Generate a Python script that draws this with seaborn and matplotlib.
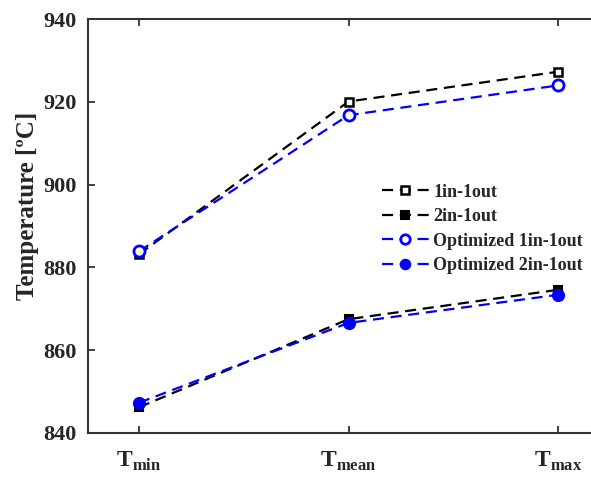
import matplotlib
matplotlib.use("Agg")
import matplotlib.pyplot as plt
import seaborn as sns
import pandas as pd

# =========================
# DATA
# =========================
CATEGORIES = ["min", "mean", "max"]
ONE_IN_ONE_OUT = [883.2, 920.1, 927.3]
TWO_IN_ONE_OUT = [846.2, 867.5, 874.6]
OPT_ONE_IN_ONE_OUT = [883.9, 916.8, 924.0]
OPT_TWO_IN_ONE_OUT = [847.3, 866.6, 873.4]
SERIES_NAMES = ["1in-1out", "2in-1out", "Optimized 1in-1out", "Optimized 2in-1out"]
Y_TICKS = [840, 860, 880, 900, 920, 940]

# =========================
# STYLE
# =========================
sns.set_theme(style="ticks")
plt.rcParams["font.family"] = ["Liberation Serif", "DejaVu Serif"]
plt.rcParams["font.weight"] = "bold"
plt.rcParams["mathtext.fontset"] = "custom"
plt.rcParams["mathtext.rm"] = "Liberation Serif:bold"
plt.rcParams["mathtext.bf"] = "Liberation Serif:bold"

styles = [
    dict(color="black", marker="s", mfc="white", mec="black", ms=6, mew=1.8),
    dict(color="black", marker="s", mfc="black", mec="black", ms=6, mew=1.5),
    dict(color="#0000ff", marker="o", mfc="white", mec="#0000ff", ms=8, mew=2.0),
    dict(color="#0000ff", marker="o", mfc="#0000ff", mec="#0000ff", ms=8, mew=1.5),
]
all_values = [ONE_IN_ONE_OUT, TWO_IN_ONE_OUT, OPT_ONE_IN_ONE_OUT, OPT_TWO_IN_ONE_OUT]

fig = plt.figure(figsize=(5.91, 4.80), dpi=100)
ax = fig.add_axes([0.149, 0.098, 0.851, 0.862])

for name, vals, st in zip(SERIES_NAMES, all_values, styles):
    df = pd.DataFrame({"pos": range(len(CATEGORIES)), "temp": vals})
    sns.lineplot(data=df, x="pos", y="temp", ax=ax, label=name,
                 linestyle=(0, (5, 3)), linewidth=1.6, **st)

ax.set_xlim(-0.243, 2.157)
ax.set_ylim(840, 940)
ax.set_yticks(Y_TICKS)
ax.set_xticks(range(len(CATEGORIES)))
ax.set_xticklabels([r"T$_{\mathrm{%s}}$" % c for c in CATEGORIES], fontsize=17)
ax.tick_params(direction="in", length=5, width=1.3, color="#333333", top=True)
ax.tick_params(axis="y", labelsize=16, pad=8)
ax.tick_params(axis="x", pad=12)
for lab in ax.get_yticklabels() + ax.get_xticklabels():
    lab.set_fontweight("bold")

ax.set_xlabel("")
ax.set_ylabel("Temperature [ºC]", fontsize=18, fontweight="bold")
ax.yaxis.set_label_coords(-0.097, 0.55)

for side in ["left", "bottom", "top"]:
    ax.spines[side].set_linewidth(1.5)
    ax.spines[side].set_color("#333333")
ax.spines["right"].set_visible(False)

leg = ax.legend(loc="upper left", bbox_to_anchor=(0.57, 0.62), frameon=False,
                prop={"weight": "bold", "size": 13}, handlelength=2.6,
                handletextpad=0.25, labelspacing=0.42, borderaxespad=0,
                markerscale=0.85)

fig.savefig("out.png", dpi=100)
